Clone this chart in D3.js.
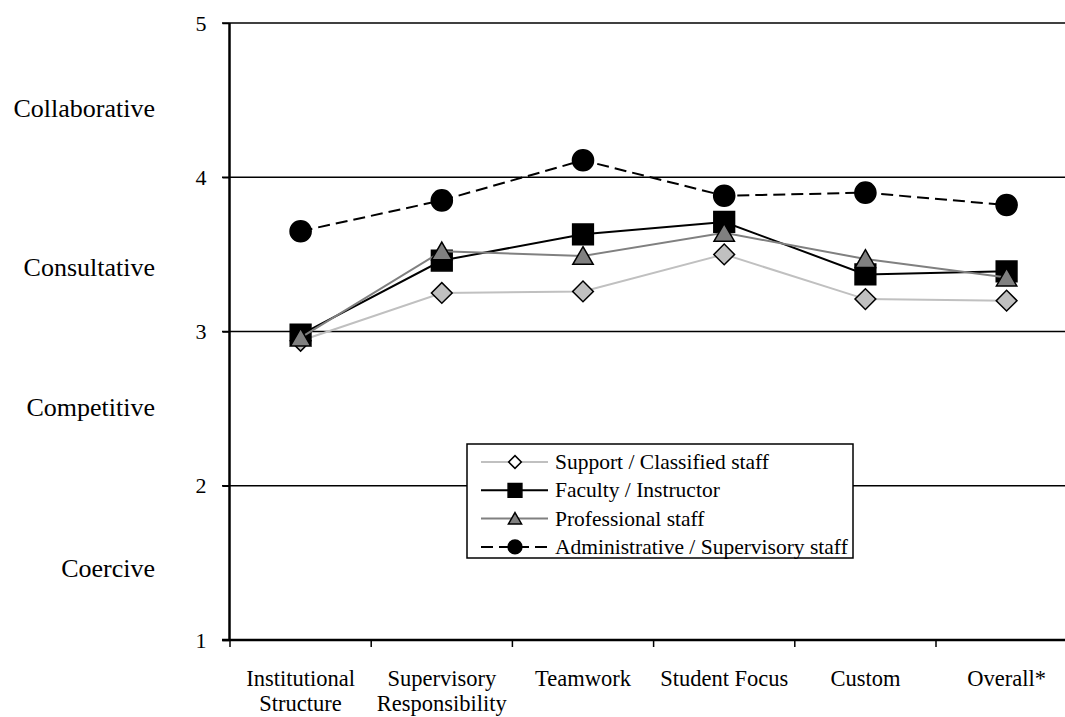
<!DOCTYPE html>
<html>
<head>
<meta charset="utf-8">
<script src="https://cdn.jsdelivr.net/npm/d3@7"></script>
<style>
  body { margin:0; background:#fff; }
  svg { display:block; font-family:"Liberation Serif","Times New Roman",serif; }
</style>
</head>
<body>
<div id="chart"></div>
<script>
// chart data
var categories = ["Institutional\nStructure", "Supervisory\nResponsibility", "Teamwork", "Student Focus", "Custom", "Overall*"];
var supportStaff = [2.94, 3.25, 3.26, 3.50, 3.21, 3.20];
var facultyStaff = [2.98, 3.46, 3.63, 3.71, 3.37, 3.39];
var professionalStaff = [2.96, 3.52, 3.49, 3.64, 3.47, 3.35];
var adminStaff = [3.65, 3.85, 4.11, 3.88, 3.90, 3.82];
var yTicks = [1, 2, 3, 4, 5];
var styleNames = ["Coercive", "Competitive", "Consultative", "Collaborative"];
var styleLevels = [1.41, 2.45, 3.36, 4.39];
var seriesNames = ["Support / Classified staff", "Faculty / Instructor", "Professional staff", "Administrative / Supervisory staff"];

var width = 1065, height = 717;
var svg = d3.select("#chart").append("svg").attr("width", width).attr("height", height);

var x = d3.scaleBand().domain(categories).range([230, 1077.2]).padding(0);
var y = d3.scaleLinear().domain([1, 5]).range([640, 23]);

var series = [
    {name: seriesNames[0], values: supportStaff, stroke: "#c0c0c0", dash: null, shape: "diamond", fill: "#c0c0c0"},
    {name: seriesNames[1], values: facultyStaff, stroke: "#000", dash: null, shape: "square", fill: "#000"},
    {name: seriesNames[2], values: professionalStaff, stroke: "#808080", dash: null, shape: "triangle", fill: "#808080"},
    {name: seriesNames[3], values: adminStaff, stroke: "#000", dash: "12,6", shape: "circle", fill: "#000"}
];

// gridlines at 2..5
svg.append("g").selectAll("line")
    .data(yTicks.filter(function(d){ return d > 1; }))
    .enter().append("line")
    .attr("x1", 222).attr("x2", width)
    .attr("y1", function(d){ return y(d); }).attr("y2", function(d){ return y(d); })
    .attr("stroke", "#000").attr("stroke-width", 1.5);

// y axis
var yAxis = svg.append("g").attr("transform", "translate(229.5,0)")
    .call(d3.axisLeft(y).tickValues(yTicks).tickSize(7).tickPadding(16).tickFormat(d3.format("d")));
yAxis.select(".domain").attr("stroke", "#000").attr("stroke-width", 2.5).attr("d", "M0," + y(1) + "V" + y(5));
yAxis.selectAll(".tick line").attr("stroke", "#000").attr("stroke-width", 1.5);
yAxis.selectAll(".tick text").attr("font-size", 22).attr("fill", "#000").attr("font-family", "Liberation Serif");

// x axis
var xAxis = svg.append("g").attr("transform", "translate(0," + y(1) + ")")
    .call(d3.axisBottom(x).tickSize(0).tickFormat(""));
xAxis.select(".domain").attr("stroke", "#000").attr("stroke-width", 2.5).attr("d", "M222,0H" + width);
xAxis.selectAll(".tick").remove();
// tick marks between categories
svg.append("g").selectAll("line")
    .data(categories)
    .enter().append("line")
    .attr("x1", function(d){ return x(d); }).attr("x2", function(d){ return x(d); })
    .attr("y1", y(1)).attr("y2", y(1) + 7)
    .attr("stroke", "#000").attr("stroke-width", 1.5);

// category labels
var catLabels = svg.append("g").selectAll("text")
    .data(categories)
    .enter().append("text")
    .attr("text-anchor", "middle")
    .attr("font-size", 22.5)
    .attr("fill", "#000");
catLabels.each(function(d){
    var lines = d.split("\n");
    var t = d3.select(this);
    lines.forEach(function(line, i){
        t.append("tspan")
            .attr("x", x(d) + x.bandwidth() / 2)
            .attr("y", 686 + i * 25)
            .text(line);
    });
});

// style labels on the left
svg.append("g").selectAll("text")
    .data(styleNames)
    .enter().append("text")
    .attr("x", 155)
    .attr("y", function(d, i){ return y(styleLevels[i]); })
    .attr("text-anchor", "end")
    .attr("font-size", 26)
    .attr("fill", "#000")
    .text(function(d){ return d; });

var symbolPath = function(shape, big){
    if(shape === "diamond") return d3.symbol().type(d3.symbolSquare).size(big ? 215 : 80)();
    if(shape === "square") return d3.symbol().type(d3.symbolSquare).size(big ? 430 : 190)();
    if(shape === "triangle") return d3.symbol().type(d3.symbolTriangle).size(big ? 180 : 75)();
    return d3.symbol().type(d3.symbolCircle).size(big ? 350 : 150)();
};
var symbolTransform = function(shape, cx, cy, big){
    var t = "translate(" + cx + "," + cy + ")";
    if(shape === "triangle") t += " translate(0," + (big ? 2.5 : 1.5) + ")";
    if(shape === "diamond") t += " rotate(45)";
    return t;
};

var line = d3.line()
    .x(function(d, i){ return x(categories[i]) + x.bandwidth() / 2; })
    .y(function(d){ return y(d); });

series.forEach(function(s){
    var g = svg.append("g");
    g.append("path")
        .attr("d", line(s.values))
        .attr("fill", "none")
        .attr("stroke", s.stroke)
        .attr("stroke-width", 2)
        .attr("stroke-dasharray", s.dash);
    g.selectAll("path.mark")
        .data(s.values)
        .enter().append("path")
        .attr("class", "mark")
        .attr("d", symbolPath(s.shape, true))
        .attr("transform", function(d, i){ return symbolTransform(s.shape, x(categories[i]) + x.bandwidth() / 2, y(d), true); })
        .attr("fill", s.fill)
        .attr("stroke", "#000")
        .attr("stroke-width", 1.5);
});

// legend
var legend = svg.append("g");
legend.append("rect")
    .attr("x", 467).attr("y", 444).attr("width", 386).attr("height", 114)
    .attr("fill", "#fff").attr("stroke", "#000").attr("stroke-width", 1.5);
var rows = legend.selectAll("g.row")
    .data(series)
    .enter().append("g")
    .attr("class", "row")
    .attr("transform", function(d, i){ return "translate(0," + (462 + i * 28.3) + ")"; });
rows.append("line")
    .attr("x1", 481).attr("x2", 548).attr("y1", 0).attr("y2", 0)
    .attr("stroke", function(d){ return d.stroke; })
    .attr("stroke-width", 2)
    .attr("stroke-dasharray", function(d){ return d.dash; });
rows.append("path")
    .attr("d", function(d){ return symbolPath(d.shape, false); })
    .attr("transform", function(d){ return symbolTransform(d.shape, 515, 0, false); })
    .attr("fill", function(d){ return d.shape === "diamond" ? "#fff" : d.fill; })
    .attr("stroke", "#000")
    .attr("stroke-width", 1.5);
rows.append("text")
    .attr("x", 555).attr("y", 7)
    .attr("font-size", 21.5)
    .attr("fill", "#000")
    .text(function(d){ return d.name; });
</script>
</body>
</html>
